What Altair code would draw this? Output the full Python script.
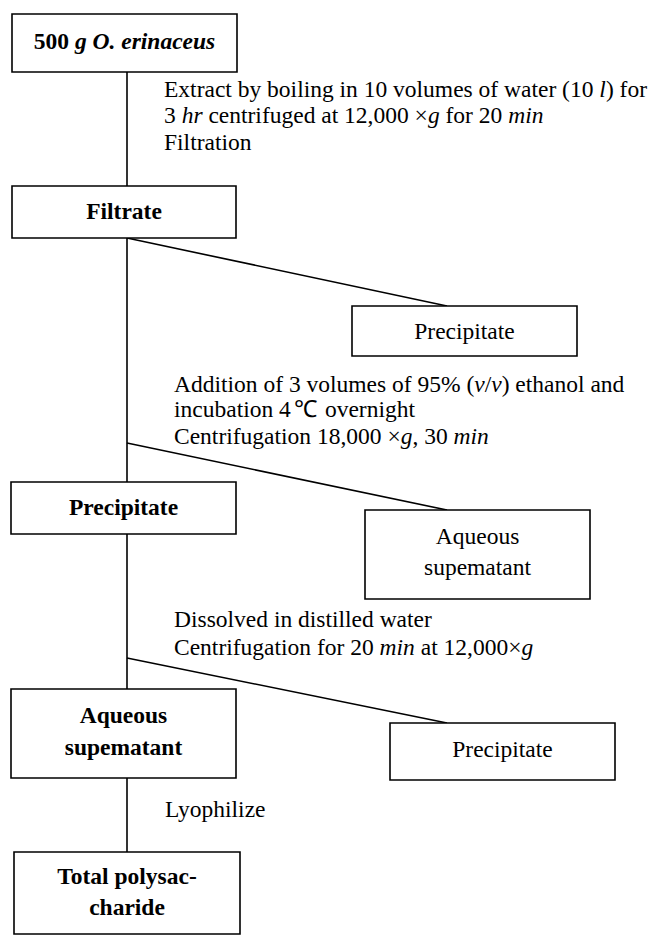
import altair as alt
import pandas as pd

FONT = "Liberation Serif"
FS = 23.5

# ---------------- data ----------------
# boxes (page pixel coordinates)
box_name = ["start", "filtrate", "prec1", "prec2", "aq1", "aq2", "prec3", "total"]
box_x0 = [12, 12, 352, 11, 365, 11, 390, 14]
box_x1 = [237, 236, 577, 236, 590, 236, 615, 240]
box_y0 = [14, 186, 306, 482, 510, 689, 723, 852]
box_y1 = [72, 238, 356, 534, 599, 778, 780, 934]

# connectors
link_x0 = [127, 127, 127, 127]
link_y0 = [72, 238, 443, 658]
link_x1 = [127, 447, 447, 447]
link_y1 = [852, 306, 510, 723]

# centered box labels
label_text = ["Filtrate", "Precipitate", "Precipitate", "Aqueous", "supematant",
              "Aqueous", "supematant", "Precipitate", "Total polysac-", "charide"]
label_x = [124, 464.5, 123.5, 477.5, 477.5, 123.5, 123.5, 502.5, 127, 127]
label_y = [212, 332, 508, 537, 568, 716, 748, 750, 877, 908]
label_bold = [True, False, True, False, False, True, True, False, True, True]

# first box title (mixed bold / bold italic), centered
title_x, title_y = 124.5, 42
title_segments = [("500 ", "B"), ("g O. erinaceus", "BI")]

# step descriptions (left aligned lines, mixed roman / italic)
step_lines = [
    (164, 90, [("Extract by boiling in 10 volumes of water (10 ", "R"), ("l", "I"), (") for", "R")]),
    (164, 116, [("3 ", "R"), ("hr", "I"), (" centrifuged at 12,000 \u00d7", "R"), ("g", "I"),
                (" for 20 ", "R"), ("min", "I")]),
    (164, 143, [("Filtration", "R")]),
    (174, 385, [("Addition of 3 volumes of 95% (", "R"), ("v", "I"), ("/", "R"), ("v", "I"),
                (") ethanol and", "R")]),
    (174, 410, [("incubation 4", "R"), ("\u2103", "R"), ("overnight", "R")]),
    (174, 437, [("Centrifugation 18,000 \u00d7", "R"), ("g", "I"), (", 30 ", "R"), ("min", "I")]),
    (174, 620, [("Dissolved in distilled water", "R")]),
    (174, 648, [("Centrifugation for 20 ", "R"), ("min", "I"), (" at 12,000\u00d7", "R"), ("g", "I")]),
    (165, 810, [("Lyophilize", "R")]),
]

# ---------------- font metrics (Times-compatible) ----------------
lower = "abcdefghijklmnopqrstuvwxyz"
upper = "ABCDEFGHIJKLMNOPQRSTUVWXYZ"
R = dict(zip(lower, [444, 500, 444, 500, 444, 333, 500, 500, 278, 278, 500, 278, 778, 500, 500,
                     500, 500, 333, 389, 278, 500, 500, 722, 500, 500, 444]))
R.update(zip(upper, [722, 667, 667, 722, 611, 556, 722, 722, 333, 389, 722, 611, 889, 722, 722,
                     556, 722, 667, 556, 611, 722, 722, 944, 722, 722, 611]))
R.update({c: 500 for c in "0123456789"})
R.update({" ": 250, ",": 250, ".": 250, "(": 333, ")": 333, "/": 278, "%": 833,
          "\u00d7": 564, "-": 333, "\u2103": 1150})
I = dict(zip(lower, [500, 500, 444, 500, 444, 278, 500, 500, 278, 278, 444, 278, 722, 500, 500,
                     500, 500, 389, 389, 278, 500, 444, 667, 444, 444, 389]))
I.update({" ": 250})
B = dict(zip(lower, [500, 556, 444, 556, 444, 333, 500, 556, 278, 333, 556, 278, 833, 556, 500,
                     556, 556, 444, 389, 333, 556, 500, 722, 500, 500, 444]))
B.update({c: 500 for c in "0123456789"})
B.update({" ": 250, "-": 333})
BI = dict(zip(lower, [500, 500, 444, 500, 444, 333, 500, 556, 278, 278, 500, 278, 778, 556, 500,
                      500, 500, 389, 389, 278, 556, 444, 667, 500, 444, 389]))
BI.update({" ": 250, ".": 250, "O": 722})
WID = {"R": R, "I": I, "B": B, "BI": BI}


def tw(s, st):
    return sum(WID[st].get(ch, 500) for ch in s) * FS / 1000.0


# ---------------- build tables ----------------
boxes = pd.DataFrame({"name": box_name, "x0": box_x0, "x1": box_x1, "y0": box_y0, "y1": box_y1})
links = pd.DataFrame({"x0": link_x0, "y0": link_y0, "x1": link_x1, "y1": link_y1})


def place(rows, start_x, y, segs, joined=False):
    """Lay segments left to right; SVG trims edge spaces, so offset them explicitly."""
    cx = start_x
    for k, (t, st) in enumerate(segs):
        lead = len(t) - len(t.lstrip(" "))
        core = t.strip(" ")
        rows.append({"x": cx + tw(" " * lead, st), "y": y, "text": core, "style": st})
        cx += tw(t, st)
        if joined and k < len(segs) - 1:
            cx += tw(" ", "R") * 0.6


seg_rows = []
for x, y, segs in step_lines:
    place(seg_rows, x, y, segs, joined=any(t == "\u2103" for t, _ in segs))
total_w = sum(tw(t, st) for t, st in title_segments)
place(seg_rows, title_x - total_w / 2, title_y, title_segments)
segs_df = pd.DataFrame(seg_rows)

labels = pd.DataFrame({"x": label_x, "y": label_y, "text": label_text,
                       "style": ["B" if b else "R" for b in label_bold]})

xs = alt.Scale(domain=[8, 654])
ys = alt.Scale(domain=[8, 936], reverse=True)

rules = alt.Chart(links).mark_rule(color="black", strokeWidth=1.6).encode(
    x=alt.X("x0:Q", scale=xs, axis=None), y=alt.Y("y0:Q", scale=ys, axis=None),
    x2="x1:Q", y2="y1:Q")

rects = alt.Chart(boxes).mark_rect(fill="white", stroke="black", strokeWidth=1.6).encode(
    x=alt.X("x0:Q", scale=xs, axis=None), x2="x1:Q",
    y=alt.Y("y0:Q", scale=ys, axis=None), y2="y1:Q")

STYLE = {"R": ("normal", "normal"), "I": ("italic", "normal"),
         "B": ("normal", "bold"), "BI": ("italic", "bold")}


def text_layer(df, style, align):
    sub = df[df["style"] == style]
    fs, fw = STYLE[style]
    return alt.Chart(sub).mark_text(font=FONT, fontSize=FS, fontStyle=fs, fontWeight=fw,
                                    align=align, baseline="middle", color="black").encode(
        x=alt.X("x:Q", scale=xs, axis=None), y=alt.Y("y:Q", scale=ys, axis=None), text="text:N")


layers = [rules, rects]
for st in ["R", "I", "B", "BI"]:
    if (segs_df["style"] == st).any():
        layers.append(text_layer(segs_df, st, "left"))
for st in ["R", "B"]:
    layers.append(text_layer(labels, st, "center"))

chart = alt.layer(*layers).properties(
    width=646, height=928, padding=0, autosize=alt.AutoSizeParams(type="none")
).configure_view(strokeWidth=0)

chart.save("out.html", embed_options={"renderer": "svg", "actions": False})
